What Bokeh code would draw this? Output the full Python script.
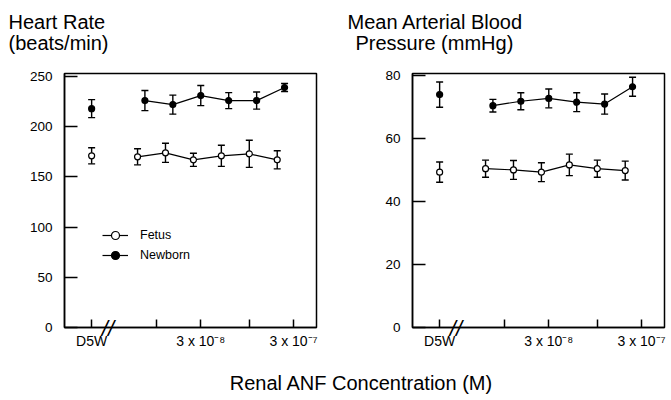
from bokeh.plotting import figure
from bokeh.models import (ColumnDataSource, Whisker, Range1d, FixedTicker, Label,
                          Legend, LegendItem, TeeHead, LogAxis)
from bokeh.layouts import row, column
from bokeh.embed import file_html
from bokeh.resources import INLINE

# ---------------- data ----------------
d5w_x = 2e-9
newborn_doses = [7.5e-9, 1.5e-8, 3e-8, 6e-8, 1.2e-7, 2.4e-7]
fetus_doses = [6.25e-9, 1.25e-8, 2.5e-8, 5e-8, 1e-7, 2e-7]

hr_newborn_d5w, hr_newborn_d5w_err = 218, 9
hr_newborn = [226, 222, 231, 226, 226, 239]
hr_newborn_err = [10, 9.5, 10, 8, 8.5, 4]
hr_fetus_d5w, hr_fetus_d5w_err = 171, 8
hr_fetus = [170, 174, 167, 171, 173, 167]
hr_fetus_err = [8, 9.5, 6.5, 10.5, 13.5, 9]

map_newborn_d5w, map_newborn_d5w_err = 73.9, 4
map_newborn = [70.4, 71.8, 72.7, 71.5, 70.9, 76.4]
map_newborn_err = [2, 2.7, 3, 3, 3.2, 3]
map_fetus_d5w, map_fetus_d5w_err = 49.3, 3.2
map_fetus = [50.4, 50.0, 49.3, 51.6, 50.4, 49.8]
map_fetus_err = [2.7, 3, 3, 3.4, 2.7, 3]

x_tick_values = [2e-9, 1e-8, 3e-8, 1e-7, 3e-7]
x_tick_labels = ["D5W", " ", "3 x 10\u207b\u2078", " ", "3 x 10\u207b\u2077"]
break_x = 3.0e-9
hr_ticks = [0, 50, 100, 150, 200, 250]
map_ticks = [0, 20, 40, 60, 80]

FONT = "Liberation Sans"
TOP_H = 60
BOT_H = 37
FIG_H = 400 - TOP_H - BOT_H


def blank_fig(width, height):
    f = figure(width=width, height=height, x_range=Range1d(0, width),
               y_range=Range1d(0, height), output_backend="svg",
               toolbar_location=None, min_border=0,
               x_axis_location=None, y_axis_location=None)
    f.outline_line_color = None
    f.xgrid.visible = False
    f.ygrid.visible = False
    return f


def make_panel(width, bl, br, y_end, y_ticks,
               nb, nb_err, nb_d5w, nb_d5w_err, fe, fe_err, fe_d5w, fe_d5w_err,
               legend=False):
    p = figure(width=width, height=FIG_H, x_axis_type="log",
               x_range=Range1d(1.02e-9, 5.3e-7), y_range=Range1d(0, y_end),
               output_backend="svg", toolbar_location=None,
               min_border_left=bl, min_border_right=br,
               min_border_top=13, min_border_bottom=36)
    p.xgrid.visible = False
    p.ygrid.visible = False
    p.outline_line_color = "black"
    p.outline_line_width = 1.5
    p.outline_line_alpha = 1.0

    xa = p.xaxis[0]
    xa.ticker = FixedTicker(ticks=x_tick_values)
    xa.major_label_overrides = dict(zip(x_tick_values, x_tick_labels))
    xa.major_tick_in = 8
    xa.major_tick_out = 0
    xa.minor_tick_line_color = None
    xa.axis_line_width = 1.5
    xa.major_tick_line_width = 1.5
    xa.major_label_text_font = FONT
    xa.major_label_text_font_size = "14px"
    xa.major_label_text_color = "black"
    xa.major_label_standoff = 5

    # axis break mark, drawn as the label of a tickless second axis
    brk = LogAxis(ticker=FixedTicker(ticks=[break_x]),
                  major_label_overrides={break_x: "//"},
                  axis_line_color=None, major_tick_line_color=None,
                  minor_tick_line_color=None, major_label_standoff=-42,
                  major_label_text_font=FONT, major_label_text_font_style="italic",
                  major_label_text_font_size="22px", major_label_text_color="black")
    p.add_layout(brk, "below")

    ya = p.yaxis[0]
    ya.ticker = FixedTicker(ticks=y_ticks)
    ya.major_tick_in = 13
    ya.major_tick_out = 0
    ya.minor_tick_line_color = None
    ya.axis_line_width = 1.5
    ya.major_tick_line_width = 1.5
    ya.major_label_text_font = FONT
    ya.major_label_text_font_size = "13.5px"
    ya.major_label_text_color = "black"
    ya.major_label_standoff = 12

    for series, errs, d5w, d5w_err, doses, fill in (
            (fe, fe_err, fe_d5w, fe_d5w_err, fetus_doses, "white"),
            (nb, nb_err, nb_d5w, nb_d5w_err, newborn_doses, "black")):
        xs = [d5w_x] + list(doses)
        ys = [d5w] + list(series)
        es = [d5w_err] + list(errs)
        src = ColumnDataSource(dict(x=xs, y=ys,
                                    upper=[v + e for v, e in zip(ys, es)],
                                    lower=[v - e for v, e in zip(ys, es)]))
        w = Whisker(base="x", upper="upper", lower="lower", source=src,
                    dimension="height", line_width=1.4, line_color="black",
                    upper_head=TeeHead(size=7, line_width=1.4, line_color="black"),
                    lower_head=TeeHead(size=7, line_width=1.4, line_color="black"),
                    level="underlay")
        p.add_layout(w)
        ln = p.line(list(doses), list(series), line_color="black", line_width=1.2)
        sc = p.scatter("x", "y", source=src, marker="circle", size=6,
                       fill_color=fill, line_color="black", line_width=1.2)
        if fill == "white":
            fe_r = [ln, sc]
        else:
            nb_r = [ln, sc]

    if legend:
        lg = Legend(items=[LegendItem(label="Fetus", renderers=fe_r),
                           LegendItem(label="Newborn", renderers=nb_r)],
                    location=(38, 62), glyph_width=26, glyph_height=20,
                    label_height=20, spacing=0, padding=0, margin=0,
                    border_line_color=None, background_fill_alpha=0,
                    label_standoff=12, label_text_font=FONT,
                    label_text_font_size="12.5px", label_text_color="black")
        p.add_layout(lg)
    return p


left = make_panel(348, 64, 32, 253, hr_ticks,
                  hr_newborn, hr_newborn_err, hr_newborn_d5w, hr_newborn_d5w_err,
                  hr_fetus, hr_fetus_err, hr_fetus_d5w, hr_fetus_d5w_err,
                  legend=True)
right = make_panel(323, 64, 7, 80.6, map_ticks,
                   map_newborn, map_newborn_err, map_newborn_d5w, map_newborn_d5w_err,
                   map_fetus, map_fetus_err, map_fetus_d5w, map_fetus_d5w_err)

top = blank_fig(671, TOP_H)
for txt, tx, ty in (("Heart Rate", 8, TOP_H - 21), ("(beats/min)", 8, TOP_H - 42),
                    ("Mean Arterial Blood", 347, TOP_H - 21),
                    ("Pressure (mmHg)", 355, TOP_H - 42)):
    top.add_layout(Label(x=tx, y=ty, text=txt, text_font=FONT, text_font_size="20px",
                         text_color="black", text_baseline="alphabetic"))

bottom = blank_fig(671, BOT_H)
bottom.add_layout(Label(x=361, y=18, text="Renal ANF Concentration (M)",
                        text_align="center", text_baseline="middle",
                        text_font=FONT, text_font_size="20px", text_color="black"))

layout = column(top, row(left, right), bottom)
open("out.html", "w").write(file_html(layout, INLINE))
